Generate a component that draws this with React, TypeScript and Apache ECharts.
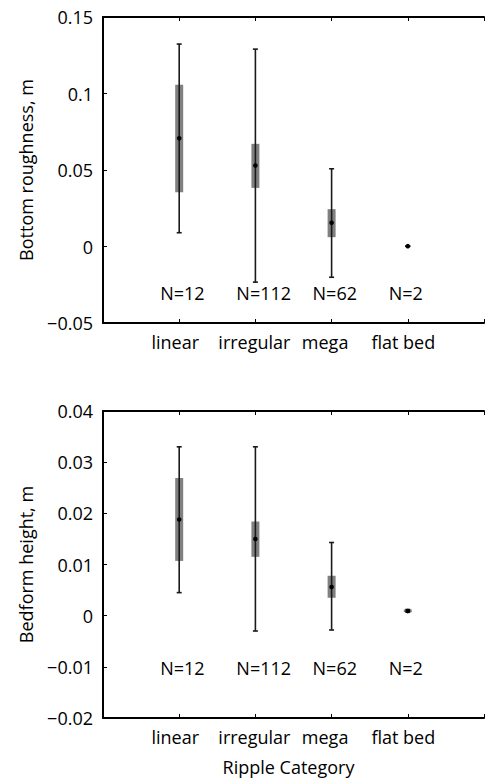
import React, { useEffect, useRef } from 'react';
import * as echarts from 'echarts';

const categories = ['linear', 'irregular', 'mega', 'flat bed'];
const sampleCounts = [12, 112, 62, 2];

// Bottom roughness, m: whisker ends, box edges and centre dot per category
const roughLower = [0.009, -0.0233, -0.0201, 0.0002];
const roughQ1 = [0.0355, 0.0383, 0.0061, 0.0002];
const roughMid = [0.0707, 0.0529, 0.0155, 0.0002];
const roughQ3 = [0.1057, 0.0671, 0.0244, 0.0002];
const roughUpper = [0.1323, 0.129, 0.0508, 0.0002];

// Bedform height, m
const heightLower = [0.0045, -0.003, -0.0028, 0.0007];
const heightQ1 = [0.0107, 0.0115, 0.0035, 0.0007];
const heightMid = [0.0188, 0.015, 0.0056, 0.0009];
const heightQ3 = [0.0269, 0.0184, 0.0078, 0.0012];
const heightUpper = [0.033, 0.033, 0.0143, 0.0012];

// y value at which the "N=" annotations sit in each panel
const roughCountY = -0.0307;
const heightCountY = -0.0103;

const FONT = '"Open Sans", "Noto Sans", sans-serif';
const FS = 18;

// shift of each category label to the left, in px (as padding on the right)
const labelShift = [8, 2, 13, 9];

function buildRows(lower: number[], q1: number[], mid: number[], q3: number[], upper: number[], countY: number) {
  return categories.map((_, i) => [i + 1, lower[i], q1[i], mid[i], q3[i], upper[i], countY, sampleCounts[i]]);
}

const renderBox = (_params: any, api: any) => {
  const x = api.value(0);
  const pLow = api.coord([x, api.value(1)]);
  const pQ1 = api.coord([x, api.value(2)]);
  const pMid = api.coord([x, api.value(3)]);
  const pQ3 = api.coord([x, api.value(4)]);
  const pHigh = api.coord([x, api.value(5)]);
  const pLab = api.coord([x - 0.25, api.value(6)]);
  const cx = pMid[0];
  const boxW = 8;
  const capW = 5;
  const lineStyle = { stroke: '#1a1a1a', lineWidth: 1.6 };
  return {
    type: 'group',
    children: [
      {
        type: 'rect',
        shape: { x: cx - boxW / 2, y: pQ3[1], width: boxW, height: pQ1[1] - pQ3[1] },
        style: { fill: '#808080' },
      },
      { type: 'line', shape: { x1: cx, y1: pHigh[1], x2: cx, y2: pLow[1] }, style: lineStyle },
      { type: 'line', shape: { x1: cx - capW / 2, y1: pHigh[1], x2: cx + capW / 2, y2: pHigh[1] }, style: lineStyle },
      { type: 'line', shape: { x1: cx - capW / 2, y1: pLow[1], x2: cx + capW / 2, y2: pLow[1] }, style: lineStyle },
      { type: 'circle', shape: { cx, cy: pMid[1], r: 2.3 }, style: { fill: '#000' } },
      {
        type: 'text',
        x: pLab[0],
        y: pLab[1],
        style: {
          text: 'N=' + api.value(7),
          fill: '#000',
          fontSize: FS,
          fontFamily: FONT,
          align: 'left',
          verticalAlign: 'middle',
        },
      },
    ],
  };
};

const yFormat = (v: number) => {
  const r = Math.round(v * 10000) / 10000;
  if (r === 0) return '0';
  const s = String(Math.abs(r));
  return r < 0 ? '\u2212' + s : s;
};

const rich: Record<string, any> = {};
labelShift.forEach((p, i) => {
  rich['c' + i] = { fontSize: FS, fontFamily: FONT, color: '#000', padding: [0, p, 0, 0] };
});

const axisLine = { show: true, onZero: false, lineStyle: { color: '#000', width: 2 } };
const axisTick = { show: true, inside: true, length: 4, lineStyle: { color: '#000', width: 1 } };

function xAxisBottom(gridIndex: number, name: string) {
  return {
    type: 'value',
    gridIndex,
    position: 'bottom',
    min: 0,
    max: 5,
    interval: 1,
    axisLine,
    axisTick,
    splitLine: { show: false },
    axisLabel: {
      margin: 10,
      fontSize: FS,
      fontFamily: FONT,
      color: '#000',
      rich,
      formatter: (v: number) => {
        const i = Math.round(v) - 1;
        return i >= 0 && i < categories.length ? `{c${i}|${categories[i]}}` : '';
      },
    },
    name,
    nameLocation: 'middle',
    nameGap: 40,
    nameTextStyle: { fontSize: FS, fontFamily: FONT, color: '#000', padding: [0, 10, 0, 0] },
  };
}

function xAxisTop(gridIndex: number) {
  return {
    type: 'value',
    gridIndex,
    position: 'top',
    min: 0,
    max: 5,
    interval: 1,
    axisLine,
    axisTick,
    splitLine: { show: false },
    axisLabel: { show: false },
  };
}

function yAxisLeft(gridIndex: number, min: number, max: number, interval: number, name: string) {
  return {
    type: 'value',
    gridIndex,
    min,
    max,
    interval,
    axisLine,
    axisTick,
    splitLine: { show: false },
    axisLabel: { margin: 10, fontSize: FS, fontFamily: FONT, color: '#000', formatter: yFormat },
    name,
    nameLocation: 'middle',
    nameGap: 68,
    nameTextStyle: { fontSize: FS, fontFamily: FONT, color: '#000' },
  };
}

export default function App() {
  const ref = useRef<HTMLDivElement>(null);

  useEffect(() => {
    if (!ref.current) return;
    const chart = echarts.init(ref.current, undefined, { renderer: 'svg' });
    chart.setOption({
      animation: false,
      backgroundColor: '#fff',
      grid: [
        { left: 103, top: 17, width: 390, height: 306 },
        { left: 103, top: 411, width: 390, height: 307 },
      ],
      xAxis: [xAxisBottom(0, ''), xAxisTop(0), xAxisBottom(1, 'Ripple Category'), xAxisTop(1)],
      yAxis: [
        yAxisLeft(0, -0.05, 0.15, 0.05, 'Bottom roughness, m'),
        yAxisLeft(1, -0.02, 0.04, 0.01, 'Bedform height, m'),
      ],
      series: [
        {
          type: 'custom',
          xAxisIndex: 0,
          yAxisIndex: 0,
          clip: false,
          renderItem: renderBox,
          data: buildRows(roughLower, roughQ1, roughMid, roughQ3, roughUpper, roughCountY),
        },
        {
          type: 'custom',
          xAxisIndex: 2,
          yAxisIndex: 1,
          clip: false,
          renderItem: renderBox,
          data: buildRows(heightLower, heightQ1, heightMid, heightQ3, heightUpper, heightCountY),
        },
      ],
    });
    return () => chart.dispose();
  }, []);

  return (
    <div
      ref={ref}
      style={{ position: 'absolute', left: 0, top: 0, width: 487, height: 778, overflow: 'hidden' }}
    />
  );
}
